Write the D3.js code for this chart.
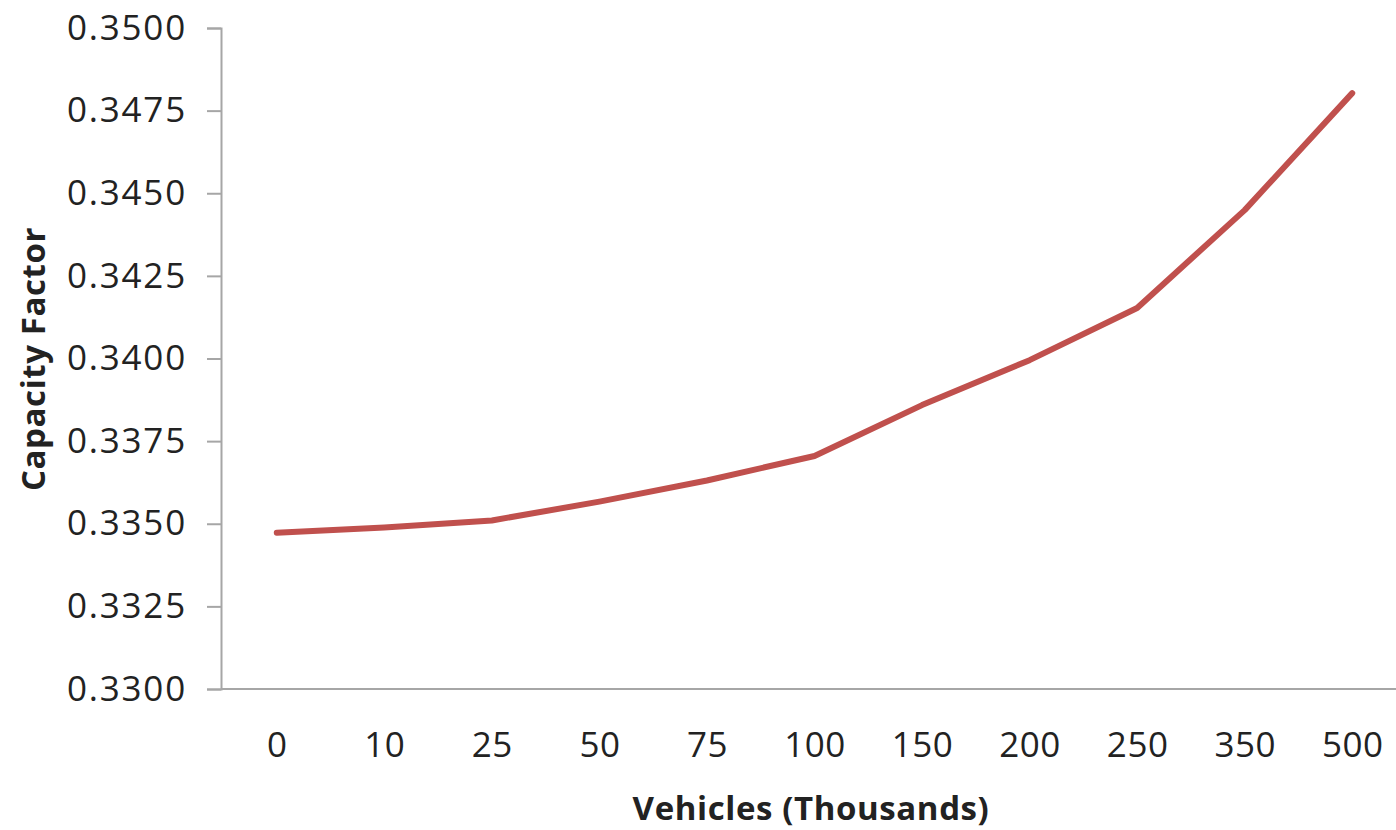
<!DOCTYPE html>
<html>
<head>
<meta charset="utf-8">
<script src="https://cdn.jsdelivr.net/npm/d3@7"></script>
<style>
  html, body { margin: 0; padding: 0; background: #fff; }
  svg { display: block; }
  text { font-family: "Open Sans", "Noto Sans", sans-serif; fill: #222; }
</style>
</head>
<body>
<svg id="chart" width="1396" height="830"></svg>
<script>
// Vehicles in thousands (category axis)
const categories = ["0", "10", "25", "50", "75", "100", "150", "200", "250", "350", "500"];
// Capacity factor for each fleet size
const capacityFactor = [0.33473, 0.33489, 0.33510, 0.33567, 0.33631, 0.33705, 0.33859, 0.33995, 0.34153, 0.34449, 0.34803];
// Y axis ticks
const yTicks = [0.3300, 0.3325, 0.3350, 0.3375, 0.3400, 0.3425, 0.3450, 0.3475, 0.3500];

const svg = d3.select("#chart");

const x = d3.scalePoint().domain(categories).range([223, 1406]).padding(0.5);
const y = d3.scaleLinear().domain([0.33, 0.35]).range([689, 28]);

const axisColor = "#a6a6a6";

// Y axis
const yAxis = svg.append("g").attr("transform", "translate(221,0)")
  .call(d3.axisLeft(y).tickValues(yTicks).tickFormat(d3.format(".4f")).tickSize(14).tickPadding(20));
yAxis.select(".domain").attr("stroke", axisColor).attr("stroke-width", 2);
yAxis.selectAll(".tick line").attr("stroke", axisColor).attr("stroke-width", 2);
yAxis.selectAll(".tick text")
  .attr("font-size", 35).attr("fill", "#222").attr("letter-spacing", 1.8)
  .style("font-family", "'Open Sans', sans-serif");

// X axis (line only, labels below)
const xAxis = svg.append("g").attr("transform", "translate(0,689)")
  .call(d3.axisBottom(x).tickSize(0).tickPadding(43));
xAxis.select(".domain").attr("stroke", axisColor).attr("stroke-width", 2)
  .attr("d", "M221,0H1396");
xAxis.selectAll(".tick text")
  .attr("font-size", 35).attr("fill", "#222").attr("letter-spacing", 0.5)
  .style("font-family", "'Open Sans', sans-serif");

// Series line
const line = d3.line()
  .x((d, i) => x(categories[i]))
  .y(d => y(d));

svg.append("path")
  .datum(capacityFactor)
  .attr("fill", "none")
  .attr("stroke", "#c0504d")
  .attr("stroke-width", 6)
  .attr("stroke-linejoin", "round")
  .attr("stroke-linecap", "round")
  .attr("d", line);

// Axis titles
svg.append("text")
  .attr("x", 811).attr("y", 820)
  .attr("text-anchor", "middle")
  .attr("font-size", 33).attr("font-weight", "bold").attr("letter-spacing", 0.6)
  .text("Vehicles (Thousands)");

svg.append("text")
  .attr("transform", "translate(45,359) rotate(-90)")
  .attr("text-anchor", "middle")
  .attr("font-size", 33).attr("font-weight", "bold").attr("letter-spacing", 0.6)
  .text("Capacity Factor");
</script>
</body>
</html>
